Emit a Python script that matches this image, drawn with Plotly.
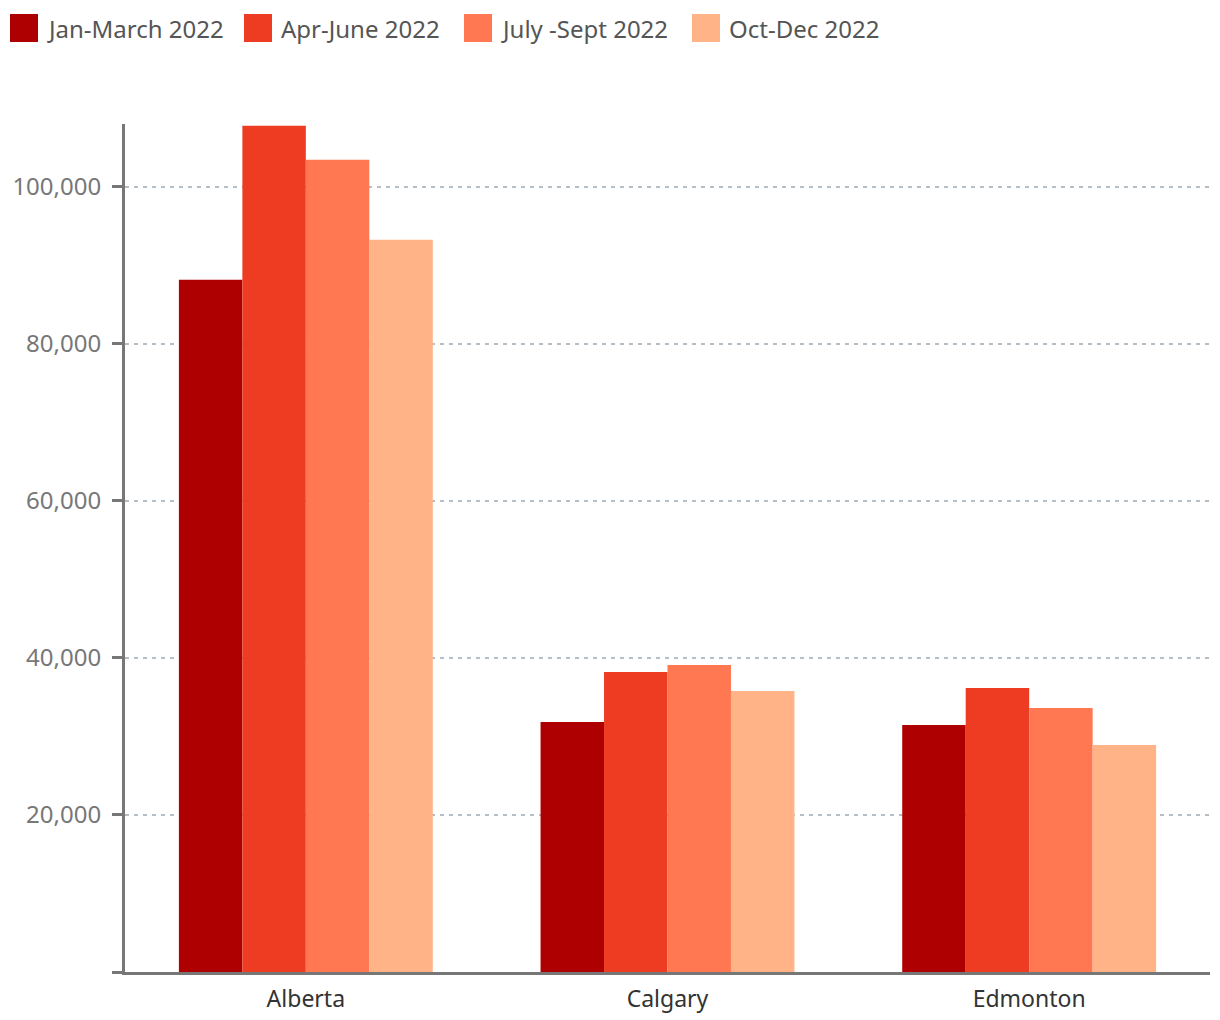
import plotly.graph_objects as go

categories = ["Alberta", "Calgary", "Edmonton"]
series_names = ["Jan-March 2022", "Apr-June 2022", "July -Sept 2022", "Oct-Dec 2022"]
jan_mar = [88150, 31850, 31460]
apr_jun = [107770, 38220, 36180]
jul_sep = [103440, 39110, 33630]
oct_dec = [93250, 35800, 28920]
series_values = [jan_mar, apr_jun, jul_sep, oct_dec]
colors = ["#AE0000", "#EE3C23", "#FF7852", "#FFB386"]
y_tickvals = [0, 20000, 40000, 60000, 80000, 100000]
y_ticktext = ["", "20,000", "40,000", "60,000", "80,000", "100,000"]

W, H = 1220, 1020
ML, MR, MT, MB = 125, 10, 124, 48
PW, PH = W - ML - MR, H - MT - MB
FONT = "Noto Sans"

def px_x(x):
    return (x - ML) / PW

def px_y(y):
    return (H - MB - y) / PH

fig = go.Figure()
for name, vals, col in zip(series_names, series_values, colors):
    fig.add_trace(go.Bar(x=categories, y=vals, name=name, marker_color=col,
                         marker_line_width=0, showlegend=False))

# custom legend (large square swatches)
legend_sq_x = [10, 244, 464, 692]
shapes = []
annotations = []
for lx, name, col in zip(legend_sq_x, series_names, colors):
    shapes.append(dict(type="rect", xref="paper", yref="paper",
                       x0=px_x(lx), x1=px_x(lx + 28), y0=px_y(42), y1=px_y(14),
                       fillcolor=col, line_width=0, layer="above"))
    annotations.append(dict(xref="paper", yref="paper", x=px_x(lx + 35), y=px_y(29),
                            xanchor="left", yanchor="middle", text=name, showarrow=False,
                            font=dict(family=FONT, size=24, color="#555555")))

fig.update_layout(
    width=W, height=H,
    margin=dict(l=ML, r=MR, t=MT, b=MB),
    barmode="group", bargap=0.298, bargroupgap=0,
    plot_bgcolor="white", paper_bgcolor="white",
    shapes=shapes, annotations=annotations,
    showlegend=False,
    font=dict(family=FONT),
)
fig.update_yaxes(
    range=[0, 108000], tickvals=y_tickvals, ticktext=y_ticktext,
    showline=True, linewidth=3, linecolor="#777777",
    ticks="outside", ticklen=10, tickwidth=3, tickcolor="#777777",
    ticklabelstandoff=6, automargin=False,
    showgrid=True, gridcolor="#B4BEC6", gridwidth=1.5, griddash="4px,5px",
    tickfont=dict(family=FONT, size=24, color="#777777"),
    zeroline=False,
)
fig.update_xaxes(
    showline=True, linewidth=3, linecolor="#777777",
    ticks="", showgrid=False, ticklabelstandoff=4, automargin=False,
    tickfont=dict(family=FONT, size=23, color="#333333"),
)
fig.write_html("out.html")
